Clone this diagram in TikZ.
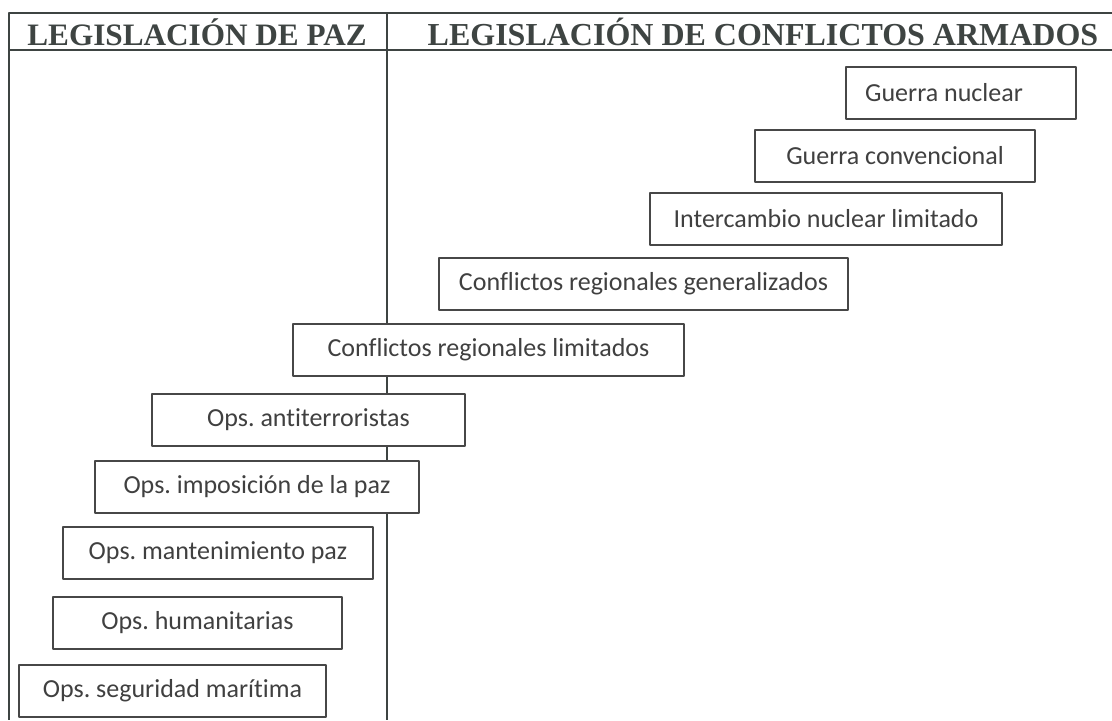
\documentclass[tikz,border=0pt]{standalone}
\usepackage{fontspec}
\setmainfont{Carlito}[Ligatures=NoCommon]
\newfontfamily\headfont{Liberation Serif}
\frenchspacing
\definecolor{marco}{HTML}{3E4442}
\definecolor{borde}{HTML}{474747}
\definecolor{texto}{HTML}{404040}
\tikzset{
  caja/.style={draw=borde, line width=0.8pt, fill=white, text=texto, inner sep=0pt,
    minimum height=26pt, font=\fontsize{13}{15}\selectfont},
  titulo/.style={text=marco, inner sep=0pt, font=\headfont\bfseries\fontsize{16}{18}\selectfont}
}
\begin{document}
\begin{tikzpicture}[x=0.5pt, y=-0.5pt, line join=round]
\useasboundingbox (0,0) rectangle (1112,720);
\def\xl{9} \def\xm{387} \def\xr{1112} % columnas
\def\ytop{13} \def\yhead{50} \def\ybot{720}
\draw[line width=1pt, draw=marco] (\xr,\ytop)--(\xl,\ytop)--(\xl,\ybot)
  (\xl,\yhead)--(\xr,\yhead)
  (\xm,\ytop)--(\xm,\ybot);
\node[titulo, font=\headfont\bfseries\fontsize{15.6}{18}\selectfont] (tpaz) at (197,32) {LEGISLACIÓN DE PAZ};
\node[titulo] (tconf) at (763,32) {LEGISLACIÓN DE CONFLICTOS ARMADOS};
% escalera
\foreach \n/\cx/\cy/\w/\txt in {
  nuclear/961/93/115/\hspace*{-17pt}Guerra nuclear,
  convencional/895/156/140/Guerra convencional,
  intercambio/826/219/176/Intercambio nuclear limitado,
  generalizados/643.5/284/204.5/Conflictos regionales generalizados,
  limitados/488.5/350/195.5/Conflictos regionales limitados,
  antiterror/308.5/420/156.5/Ops. antiterroristas,
  imposicion/257/487/162/Ops. imposición de la paz,
  mantenimiento/218/553/155/Ops. mantenimiento paz,
  humanitarias/197.5/623/144.5/Ops. humanitarias,
  maritima/172.5/691/153.5/Ops. seguridad marítima}
  \node[caja, minimum width=\w pt] (\n) at (\cx,\cy) {\txt};
\end{tikzpicture}
\end{document}
